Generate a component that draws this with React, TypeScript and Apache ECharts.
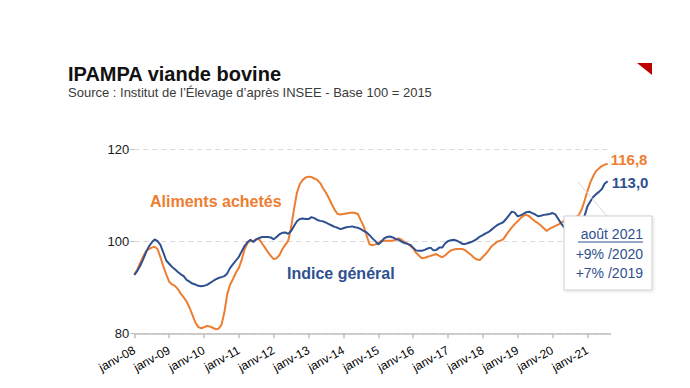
import React, { useEffect, useRef } from "react";
import * as echarts from "echarts";

const monthNames = ["janv", "févr", "mars", "avr", "mai", "juin", "juil", "août", "sept", "oct", "nov", "déc"];
const yearLabels = ["08", "09", "10", "11", "12", "13", "14", "15", "16", "17", "18", "19", "20", "21", "22"];

const categories: string[] = [];
yearLabels.forEach((y) => monthNames.forEach((m) => categories.push(`${m}-${y}`)));
const axisCategories = categories.slice(0, 165);

const alimentsAchetes = [
  92.7, 93.8, 95.2, 96.6, 97.8, 98.3, 98.6, 98.8, 98.3, 96.5, 94.5, 92.8,
  91.2, 90.6, 90.3, 89.6, 88.6, 87.8, 86.9, 85.6, 84.0, 82.4, 81.4, 81.1,
  81.3, 81.6, 81.5, 81.2, 80.9, 81.0, 81.8, 84.5, 88.5, 90.6, 91.8, 93.2,
  94.2, 96.0, 98.3, 99.6, 100.1, 100.0, 100.4, 100.4, 99.5, 98.6, 97.6, 96.8,
  96.1, 96.3, 97.0, 98.3, 99.2, 100.1, 103.0, 107.0, 110.5, 112.4, 113.3, 113.8,
  114.0, 113.9, 113.6, 113.3, 112.6, 111.5, 110.5, 109.3, 108.0, 106.8, 105.9, 105.8,
  105.9, 106.0, 106.1, 106.2, 106.1, 105.9, 104.5, 103.2, 101.2, 99.3, 99.1, 99.3,
  99.5, 100.1, 100.1, 100.1, 100.1, 100.1, 100.3, 100.6, 100.3, 99.8, 99.5, 99.0,
  98.4, 97.5, 96.9, 96.3, 96.4, 96.6, 96.8, 97.0, 97.2, 96.8, 96.5, 96.9,
  97.5, 98.0, 98.2, 98.3, 98.3, 98.3, 98.0, 97.5, 97.0, 96.4, 96.0, 95.9,
  96.6, 97.2, 98.0, 98.9, 99.4, 99.9, 100.1, 100.4, 101.3, 102.2, 103.0, 103.7,
  104.3, 105.0, 105.5, 105.7, 105.4, 104.8, 104.3, 103.9, 103.4, 102.8, 102.2, 102.7,
  103.0, 103.3, 103.6, 104.0, 104.4, 104.7, 104.9, 105.1, 105.3, 105.6, 106.8, 108.7,
  110.8, 112.7, 114.1, 115.2, 115.8, 116.3, 116.6, 116.8,
];

const indiceGeneral = [
  92.7, 93.5, 94.6, 96.0, 97.5, 98.8, 99.7, 100.4, 100.0, 99.2, 97.5, 95.8,
  95.1, 94.4, 93.9, 93.3, 92.8, 92.4, 91.6, 91.2, 90.8, 90.6, 90.3, 90.2,
  90.3, 90.5, 90.9, 91.3, 91.7, 92.0, 92.2, 92.4, 93.0, 94.2, 95.0, 95.8,
  96.6, 97.8, 99.0, 99.8, 100.3, 99.8, 100.4, 100.7, 100.9, 100.9, 100.9, 100.8,
  100.4, 100.9, 101.5, 101.8, 101.9, 101.6, 102.2, 103.3, 104.3, 104.8, 104.9, 104.8,
  104.8, 105.2, 105.0, 104.6, 104.4, 104.3, 104.0, 103.7, 103.4, 103.1, 102.9, 102.6,
  102.8, 103.0, 103.1, 103.2, 103.0, 102.9, 102.6, 102.2, 101.9, 101.3, 100.6, 100.0,
  99.3, 99.8, 100.6, 100.9, 101.0, 100.8, 100.5, 100.3, 99.9, 99.6, 99.4, 99.2,
  98.6, 98.0, 97.9, 97.9, 98.1, 98.4, 98.6, 98.0, 98.1, 98.6, 98.6, 99.5,
  100.0, 100.2, 100.3, 100.1, 99.8, 99.4, 99.4, 99.6, 99.8, 100.1, 100.5, 101.0,
  101.3, 101.7, 102.0, 102.5, 103.0, 103.5, 103.8, 104.1, 104.8, 105.6, 106.4, 106.2,
  105.4, 105.6, 105.9, 106.3, 106.4, 106.1, 105.8, 105.4, 105.5, 105.7, 105.8, 105.9,
  106.1, 105.8, 104.8, 103.8, 103.0, 102.5, 102.4, 102.7, 103.3, 104.0, 104.7, 105.4,
  107.5, 108.6, 109.6, 110.2, 110.7, 111.3, 112.5, 113.0,
];

const yTicks = { min: 80, max: 120, interval: 20 };

const ORANGE = "#ED7D31";
const BLUE = "#2F5090";

const fmt = (v: number) => v.toFixed(1).replace(".", ",");

export default function App() {
  const ref = useRef<HTMLDivElement>(null);
  useEffect(() => {
    if (!ref.current) return;
    const chart = echarts.init(ref.current, null, { renderer: "svg" });
    chart.setOption({
      animation: false,
      backgroundColor: "#ffffff",
      grid: { left: 134.3, right: 79.4, top: 149, bottom: 54.7, containLabel: false },
      xAxis: {
        type: "category",
        data: axisCategories,
        boundaryGap: false,
        axisLine: { show: true, lineStyle: { color: "#bfbfbf", width: 1.5 } },
        axisTick: {
          show: true,
          length: 5,
          interval: (i: number) => i % 12 === 0 && i < 164,
          lineStyle: { color: "#bfbfbf", width: 1.5 },
        },
        axisLabel: {
          interval: (i: number) => i % 12 === 0 && i < 164,
          rotate: 29,
          margin: 16,
          fontSize: 12,
          color: "#000000",
          fontFamily: "'Liberation Sans', Arial, sans-serif",
        },
        splitLine: { show: false },
      },
      yAxis: {
        type: "value",
        min: yTicks.min,
        max: yTicks.max,
        interval: yTicks.interval,
        axisLine: { show: false },
        axisTick: { show: true, length: 4, lineStyle: { color: "#bfbfbf" } },
        axisLabel: {
          margin: 5,
          fontSize: 13,
          color: "#1a1a1a",
          fontFamily: "'Liberation Sans', Arial, sans-serif",
        },
        splitLine: { show: true, lineStyle: { color: "#d9d9d9", type: [5, 4], width: 1 } },
      },
      series: [
        {
          name: "Aliments achetés",
          type: "line",
          data: alimentsAchetes,
          showSymbol: false,
          symbol: "none",
          lineStyle: { color: ORANGE, width: 2 },
          z: 3,
          endLabel: {
            show: true,
            formatter: (p: any) => fmt(p.value as number),
            color: ORANGE,
            fontWeight: "bold",
            fontSize: 15,
            fontFamily: "'Liberation Sans', Arial, sans-serif",
            distance: 3,
            offset: [0, -4],
          },
        },
        {
          name: "Indice général",
          type: "line",
          data: indiceGeneral,
          showSymbol: false,
          symbol: "none",
          lineStyle: { color: BLUE, width: 2 },
          z: 4,
          endLabel: {
            show: true,
            formatter: (p: any) => fmt(p.value as number),
            color: BLUE,
            fontWeight: "bold",
            fontSize: 15,
            fontFamily: "'Liberation Sans', Arial, sans-serif",
            distance: 4,
            offset: [0, 1],
          },
        },
      ],
      graphic: [
        {
          type: "text",
          left: 68,
          top: 64,
          style: {
            text: "IPAMPA viande bovine",
            fill: "#111111",
            font: "bold 20px 'Liberation Sans', Arial, sans-serif",
          },
        },
        {
          type: "text",
          left: 68,
          top: 86,
          style: {
            text: "Source : Institut de l’Élevage d’après INSEE - Base 100 = 2015",
            fill: "#3a3a3a",
            font: "13px 'Liberation Sans', Arial, sans-serif",
          },
        },
        {
          type: "polygon",
          shape: { points: [[637, 63], [652, 63], [652, 75]] },
          style: { fill: "#C00000" },
        },
        {
          type: "text",
          x: 150,
          y: 201,
          style: {
            text: "Aliments achetés",
            fill: ORANGE,
            font: "bold 16px 'Liberation Sans', Arial, sans-serif",
            textVerticalAlign: "middle",
          },
          z: 10,
        },
        {
          type: "text",
          x: 287,
          y: 273,
          style: {
            text: "Indice général",
            fill: BLUE,
            font: "bold 16px 'Liberation Sans', Arial, sans-serif",
            textVerticalAlign: "middle",
          },
          z: 10,
        },
        {
          type: "line",
          shape: { x1: 578, y1: 182, x2: 607, y2: 216 },
          style: { stroke: "#d9d9d9", lineWidth: 1 },
          z: 10,
        },
        {
          type: "rect",
          shape: { x: 564, y: 216, width: 88, height: 74 },
          style: {
            fill: "#ffffff",
            stroke: "#d0d0d0",
            lineWidth: 1,
            shadowBlur: 3,
            shadowColor: "rgba(0,0,0,0.12)",
            shadowOffsetX: 1,
            shadowOffsetY: 1,
          },
          z: 20,
        },
        {
          type: "text",
          x: 643,
          y: 234,
          style: {
            text: "août 2021",
            fill: BLUE,
            font: "14px 'Liberation Sans', Arial, sans-serif",
            textAlign: "right",
            textVerticalAlign: "middle",
          },
          z: 21,
        },
        {
          type: "line",
          shape: { x1: 578, y1: 242, x2: 643, y2: 242 },
          style: { stroke: BLUE, lineWidth: 1 },
          z: 21,
        },
        {
          type: "text",
          x: 643,
          y: 253.5,
          style: {
            text: "+9% /2020",
            fill: BLUE,
            font: "14px 'Liberation Sans', Arial, sans-serif",
            textAlign: "right",
            textVerticalAlign: "middle",
          },
          z: 21,
        },
        {
          type: "text",
          x: 643,
          y: 273,
          style: {
            text: "+7% /2019",
            fill: BLUE,
            font: "14px 'Liberation Sans', Arial, sans-serif",
            textAlign: "right",
            textVerticalAlign: "middle",
          },
          z: 21,
        },
      ],
    });
    return () => chart.dispose();
  }, []);
  return <div ref={ref} style={{ width: 690, height: 388, position: "absolute", left: 0, top: 0 }} />;
}
